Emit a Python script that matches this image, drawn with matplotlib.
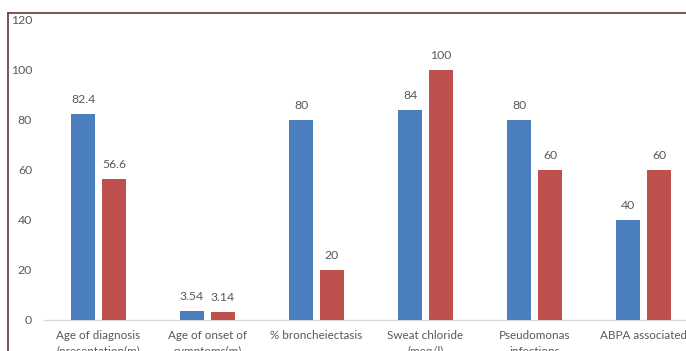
import matplotlib
matplotlib.use("Agg")
import matplotlib.pyplot as plt
import numpy as np

categories = ["Age of diagnosis\n(presentation(m)", "Age of onset of\nsymptoms(m)",
              "% broncheiectasis", "Sweat chloride\n(meq/l)", "Pseudomonas\ninfections",
              "ABPA associated"]
series_a = [82.4, 3.54, 80, 84, 80, 40]
series_b = [56.6, 3.14, 20, 100, 60, 60]
labels_a = ["82.4", "3.54", "80", "84", "80", "40"]
labels_b = ["56.6", "3.14", "20", "100", "60", "60"]
yticks = [0, 20, 40, 60, 80, 100, 120]

plt.rcParams['font.family'] = ['Lato', 'DejaVu Sans']
W, H = 686, 351
fig = plt.figure(figsize=(W / 100, H / 100), dpi=100)
fig.patch.set_facecolor('white')

left_px, right_px = 44, 698
top_px, bot_px = 20, 320
ax = fig.add_axes([left_px / W, (H - bot_px) / H, (right_px - left_px) / W, (bot_px - top_px) / H])
ax.set_facecolor('none')

x = np.arange(len(categories))
bw = 0.22
off = 0.142
blue = '#4A7EBF'
red = '#C0504D'
ba = ax.bar(x - off, series_a, bw, color=blue, zorder=3)
bb = ax.bar(x + off, series_b, bw, color=red, zorder=3)
txtc = '#595959'
for rect, lab in zip(ba, labels_a):
    ax.text(rect.get_x() + rect.get_width() / 2, rect.get_height() + 3.5, lab,
            ha='center', va='bottom', fontsize=8.8, color=txtc)
for rect, lab in zip(bb, labels_b):
    ax.text(rect.get_x() + rect.get_width() / 2, rect.get_height() + 3.5, lab,
            ha='center', va='bottom', fontsize=8.8, color=txtc)

ax.set_xlim(-0.5, len(categories) - 0.5)
ax.set_ylim(0, 120)
ax.set_yticks(yticks)
ax.set_yticklabels([str(v) for v in yticks], fontsize=8.8, color=txtc)
ax.set_xticks(x)
ax.set_xticklabels(categories, fontsize=8.4, color=txtc, linespacing=1.6)
ax.tick_params(axis='both', length=0)
ax.tick_params(axis='y', pad=8.6)
ax.tick_params(axis='x', pad=7)
for s in ['top', 'right', 'left']:
    ax.spines[s].set_visible(False)
ax.spines['bottom'].set_color('#D9D9D9')
ax.spines['bottom'].set_linewidth(1.0)

# outer chart border (cropped)
bc = '#6B3535'
fig.add_artist(plt.Line2D([8 / W, 1.0], [(H - 13) / H, (H - 13) / H], color=bc, lw=1.2, transform=fig.transFigure))
fig.add_artist(plt.Line2D([8 / W, 8 / W], [0, (H - 13) / H], color=bc, lw=1.2, transform=fig.transFigure))

fig.savefig('out.png', dpi=100, facecolor='white')
